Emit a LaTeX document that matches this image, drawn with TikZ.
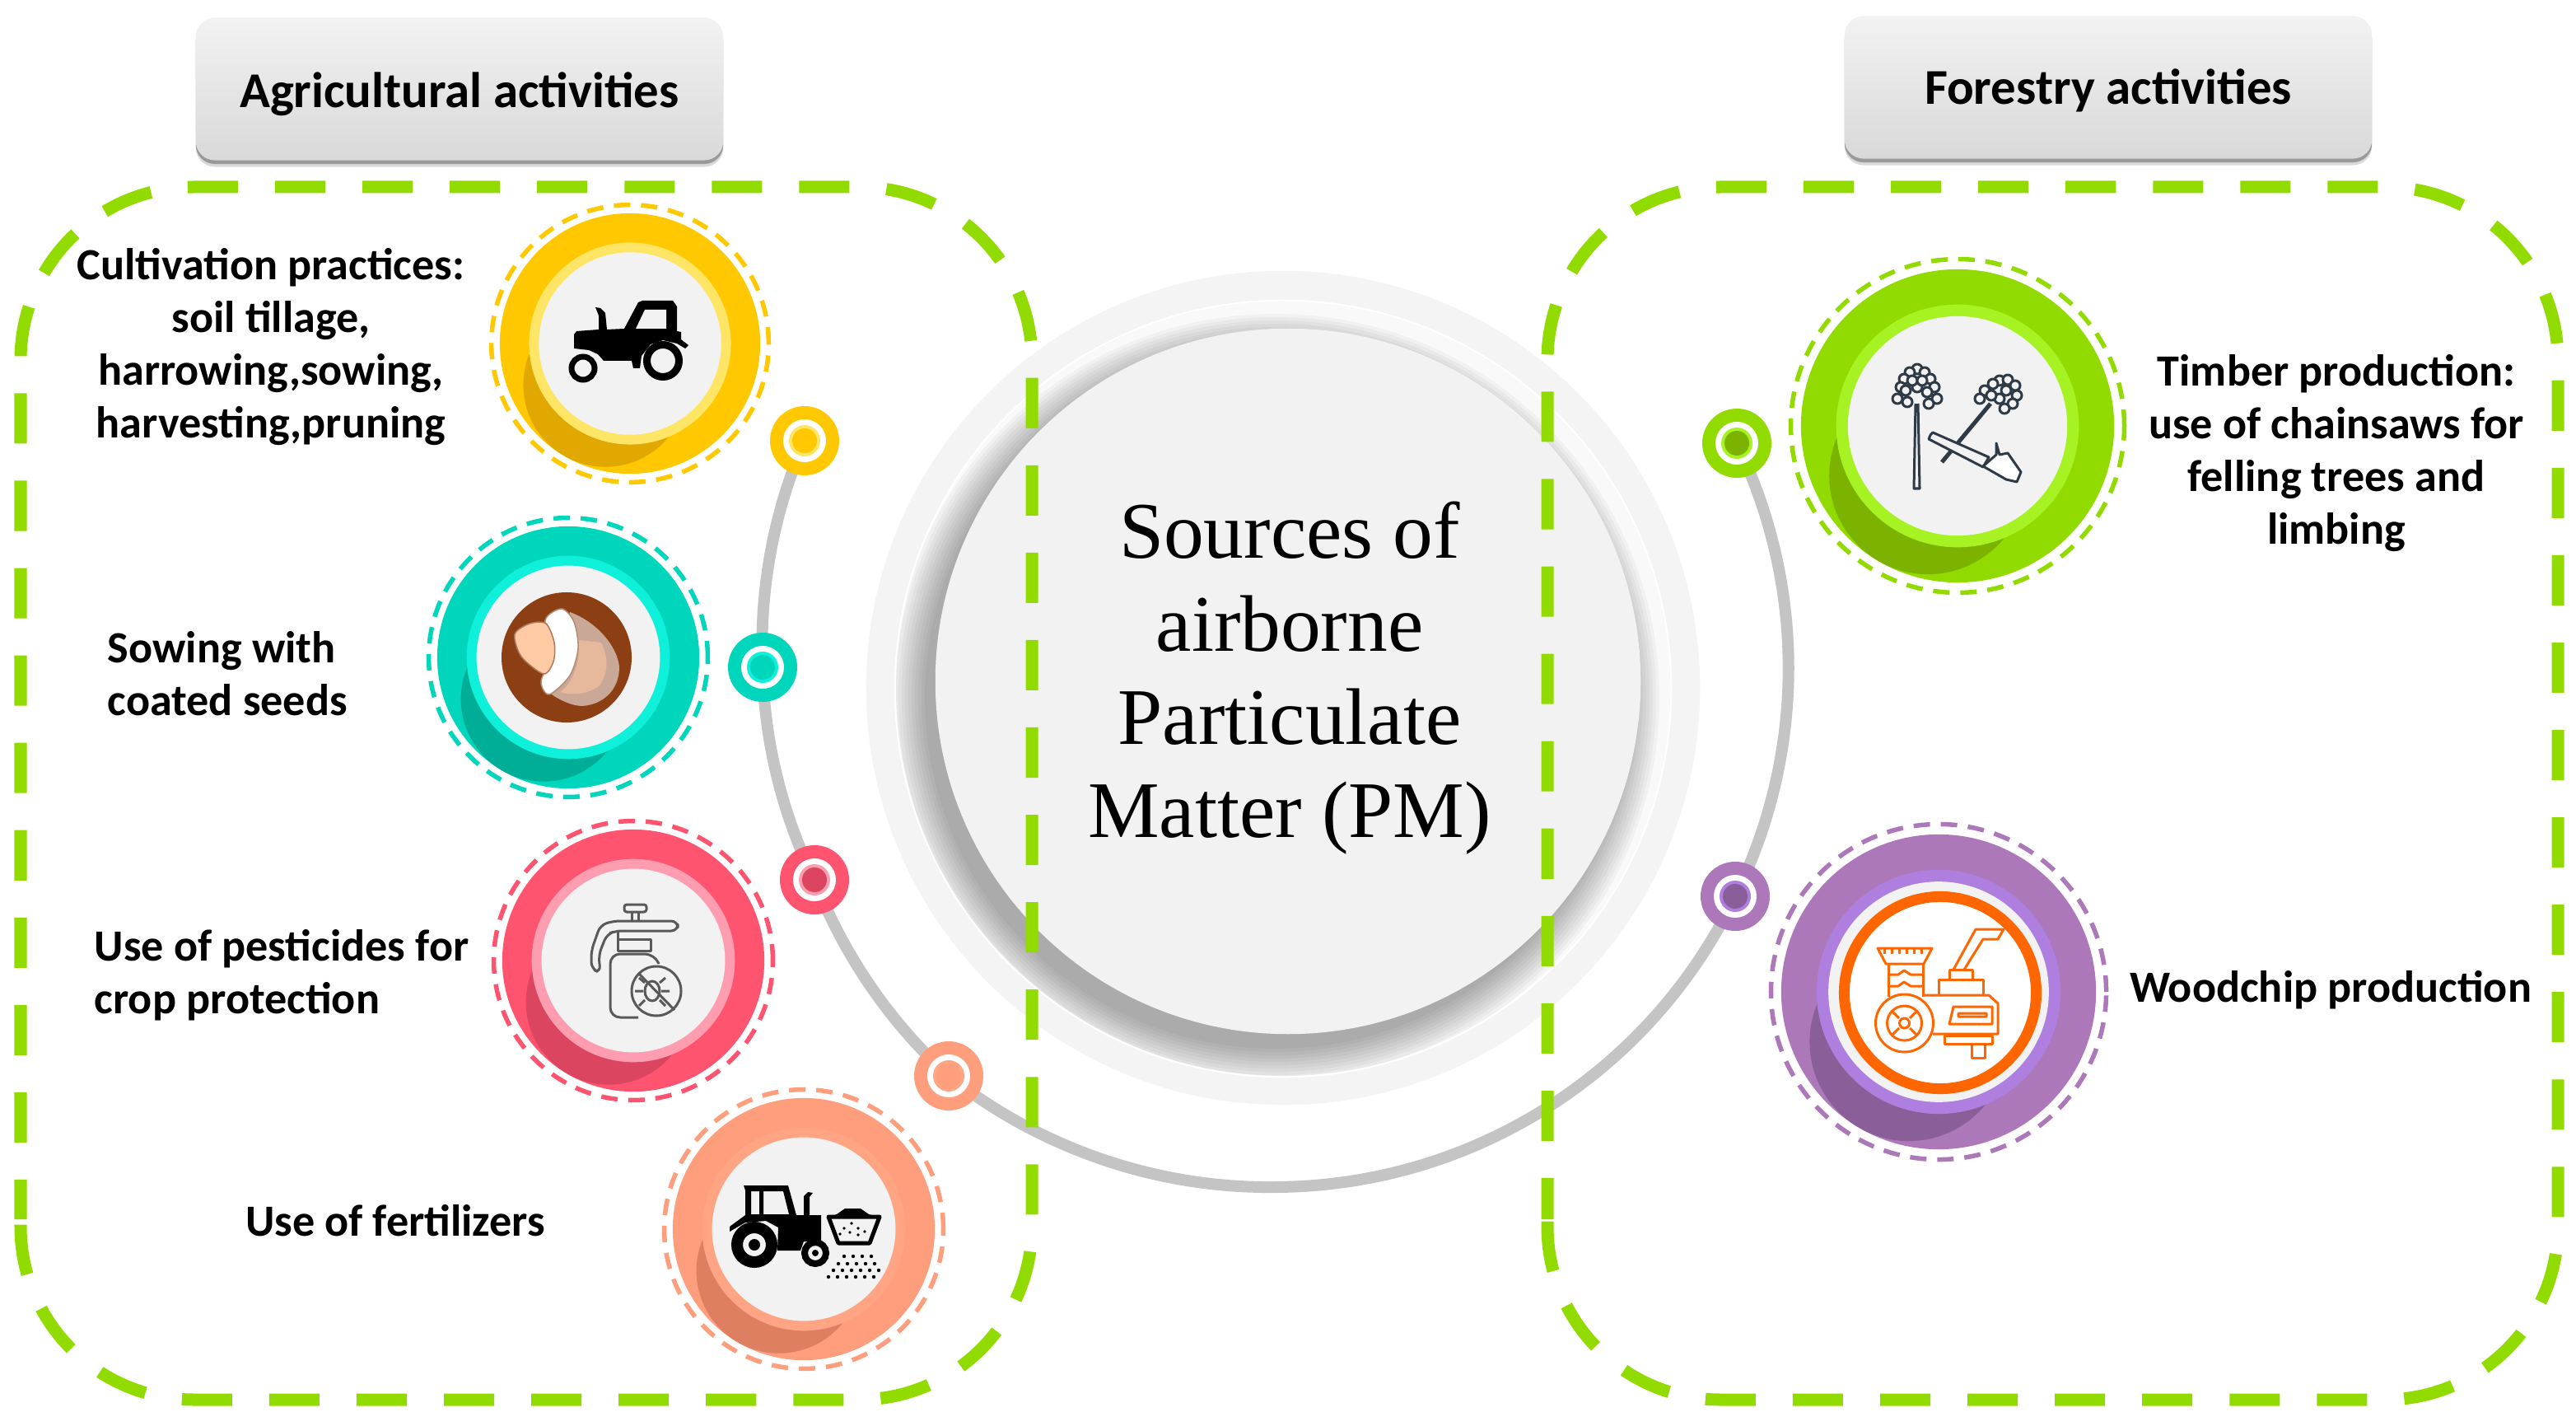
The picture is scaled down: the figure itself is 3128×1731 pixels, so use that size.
\documentclass[tikz,border=0pt]{standalone}
\usepackage{fontspec}
\usepackage{xcolor}
\setmainfont{Carlito}
\newfontfamily\titlefont{Liberation Serif}
\usetikzlibrary{positioning}

\definecolor{framegreen}{HTML}{92DB00}
\definecolor{arcgray}{HTML}{C4C4C4}
\definecolor{paper}{HTML}{F2F2F2}
\definecolor{treeink}{HTML}{2E3A46}
\definecolor{chipper}{HTML}{FF6600}
\definecolor{seedbrown}{HTML}{8B3F13}
\definecolor{seedshell}{HTML}{C9A898}
\definecolor{seedflesh}{HTML}{E6B89C}
\definecolor{seedkernel}{HTML}{FFCBA4}
\definecolor{yellowA}{HTML}{FFC800}\definecolor{yellowB}{HTML}{FFE566}\definecolor{yellowC}{HTML}{E0A800}
\definecolor{tealA}{HTML}{00D6BC}\definecolor{tealB}{HTML}{0FF0DA}\definecolor{tealC}{HTML}{00AE98}
\definecolor{pinkA}{HTML}{FF5470}\definecolor{pinkB}{HTML}{FF9DB0}\definecolor{pinkC}{HTML}{DC4560}
\definecolor{salmonA}{HTML}{FF9E7C}\definecolor{salmonB}{HTML}{FFA584}\definecolor{salmonC}{HTML}{DD7F60}
\definecolor{greenA}{HTML}{92DB00}\definecolor{greenB}{HTML}{A6F222}\definecolor{greenC}{HTML}{7BB300}
\definecolor{purpleA}{HTML}{AC78BA}\definecolor{purpleB}{HTML}{AF7FDF}\definecolor{purpleC}{HTML}{8A5E98}

\begin{document}
\begin{tikzpicture}[x=0.01cm,y=-0.01cm]
    % Define styles
    \tikzstyle{disc} = [circle, inner sep=0, outer sep=0]
    \tikzstyle{headbox} = [rectangle, rounded corners=0.23cm, minimum width=6.4cm, minimum height=1.73cm, inner sep=0]
    \tikzstyle{headtext} = [font=\fontsize{17.3}{20}\selectfont\bfseries]
    \tikzstyle{label} = [font=\fontsize{15.4}{18.2}\selectfont\bfseries, align=center, inner sep=0]
    \tikzstyle{framedash} = [draw=framegreen, line width=0.15cm, rounded corners=2.1cm, dash pattern=on 0.61cm off 0.45cm]
    \tikzstyle{linkarc} = [draw=arcgray, line width=0.14cm]
    \tikzstyle{icon} = [line width=0.03cm, line join=round]

    \path[use as bounding box] (0,0) rectangle (3128,1731);

    % Centre discs
    \node[disc, fill=black!4.5, minimum size=10.12cm] (outerdisc) at (1558,835) {};
    \node[disc, fill=black!2.5, draw=white, line width=0.02cm, minimum size=9.42cm] (middisc) at (1558,836) {};
    \begin{scope}
        \clip (middisc.center) circle[radius=470];
        \foreach \r in {426,430,...,468}
            \fill[black, opacity=0.03] (1549,847) circle[radius=\r];
    \end{scope}
    \node[disc, fill=paper, minimum size=8.56cm] (centerdisc) at (1564,827) {};
    \node[font=\titlefont\fontsize{27.7}{32.2}\selectfont, align=center, inner sep=0] (centertext) at (1566,823) {Sources of\\airborne\\Particulate\\Matter (PM)};

    % Small dots on the arc
    \foreach \nm/\x/\y in {dotyellow/977/535, dotteal/926/810, dotpink/989/1068, dotsalmon/1152/1306, arcbottom/1549/1441, dotpurple/2107/1088, dotgreen/2109/538}
        \coordinate (\nm) at (\x,\y);

    % Connections
    \draw[linkarc] (dotyellow) to[bend right=13, looseness=0.86] (dotteal);
    \draw[linkarc] (dotteal) to[bend right=12.5, looseness=0.86] (dotpink);
    \draw[linkarc] (dotpink) to[bend right=13.4, looseness=0.86] (dotsalmon);
    \draw[linkarc] (dotsalmon) to[bend right=19.5, looseness=0.875] (arcbottom);
    \draw[linkarc] (arcbottom) to[bend right=32, looseness=0.925] (dotpurple);
    \draw[linkarc] (dotpurple) to[bend right=26, looseness=0.9] (dotgreen);

    \foreach \x/\y/\colA/\colB/\colC in {977/535/yellowA/yellowB/yellowA, 926/810/tealA/tealB/tealA, 989/1068/pinkA/pinkB/pinkC, 1152/1306/salmonA/salmonB/salmonA, 2107/1088/purpleA/purpleB/purpleC, 2109/538/greenA/greenB/greenC}{
        \fill[\colA] (\x,\y) circle[radius=42];
        \fill[white] (\x,\y) circle[radius=26];
        \fill[\colB] (\x,\y) circle[radius=19];
        \fill[\colC] (\x,\y) circle[radius=15];
    }

    % Badges
    \foreach \nm/\x/\y/\rr/\colA/\colB/\colC in {badgeyellow/765/417/158/yellowA/yellowB/yellowC, badgeteal/690/798/159/tealA/tealB/tealC, badgepink/769/1166/159/pinkA/pinkB/pinkC, badgesalmon/976/1492/159/salmonA/salmonB/salmonC, badgegreen/2377/517/190/greenA/greenB/greenC, badgepurple/2354/1204/191/purpleA/purpleB/purpleC}{
        \node[disc, draw=\colA, line width=0.055cm, dash pattern=on 0.2cm off 0.13cm, minimum size={\rr*0.0213cm}] (\nm-dash) at (\x,\y) {};
        \node[disc, fill=\colA, minimum size={\rr*0.02cm}] (\nm) at (\x,\y) {};
        \begin{scope}
            \clip (\nm.center) circle[radius=\rr];
            \fill[\colC] (\x-0.19*\rr,\y+0.318*\rr) circle[radius=0.63*\rr];
        \end{scope}
        \node[disc, fill=\colB, minimum size={\rr*0.0155cm}] (\nm-rim) at (\x,\y) {};
        \node[disc, fill=paper, minimum size={\rr*0.014cm}] (\nm-core) at (\x,\y) {};
    }

    % Tractor icon
    \fill[black] (697,406) -- (700,402) -- (727,400) -- (727,383) -- (723,373) -- (729,374) -- (735,380) -- (737,400) -- (758,399) -- (775,367) -- (780,365) -- (817,365) -- (822,372) -- (822,402) -- (827,403) -- (827,412) -- (836,419) -- (832,423) -- (822,417) -- (805,413) -- (790,418) -- (779,432) -- (777,447) -- (769,447) -- (767,438) -- (733,438) -- (726,430) -- (715,425) -- (697,423) -- cycle;
    \fill[paper] (772,399) -- (783,376) -- (809,376) -- (809,399) -- cycle;
    \draw[black, line width=0.09cm] (805,438) circle[radius=19.5];
    \draw[black, line width=0.07cm] (708,447) circle[radius=14];

    % Seed icon
    \fill[seedbrown] (688,798) circle[radius=79];
    \fill[seedshell] (692,743) .. controls (725,755) and (750,785) .. (752,810) .. controls (752,835) and (735,855) .. (707,857) .. controls (695,857) and (680,850) .. (670,843) -- cycle;
    \fill[seedflesh] (730,780) .. controls (740,800) and (738,820) .. (727,833) .. controls (715,842) and (695,845) .. (680,840) .. controls (695,830) and (705,805) .. (703,777) -- cycle;
    \draw[fill=white, draw=seedbrown!60, line width=0.015cm] plot[smooth cycle] coordinates {(682,739) (697,755) (702,787) (692,820) (667,843) (657,827) (670,793) (662,753)};
    \draw[fill=seedkernel, draw=seedbrown!70, line width=0.015cm] plot[smooth cycle] coordinates {(625,770) (643,757) (663,757) (673,780) (672,803) (660,818) (633,797)};

    % Sprayer icon
    \begin{scope}[icon, draw=black!65]
        \draw[rounded corners=0.03cm] (758,1098) rectangle (785,1107);
        \draw (767,1107) -- (767,1118) (775,1107) -- (775,1118);
        \draw[rounded corners=0.08cm] (823,1118) -- (745,1118) -- (729,1123) -- (718,1154) -- (718,1176) -- (729,1181) -- (727,1159) -- (737,1134) -- (748,1130) -- (823,1130) -- cycle;
        \draw (750,1130) -- (750,1140) -- (790,1140) -- (790,1154) -- (750,1154) -- cycle;
        \draw[rounded corners=0.12cm] (775,1235) -- (741,1235) -- (741,1158) -- (795,1158) -- (800,1170);
        \draw[fill=paper] (797,1203) circle[radius=30];
        \draw (792,1203) ellipse[x radius=9, y radius=12];
        \draw (783,1193) -- (776,1187) (781,1203) -- (771,1203) (783,1214) -- (776,1221) (801,1193) -- (808,1187) (803,1203) -- (813,1203) (801,1214) -- (808,1221);
        \draw (775,1181) -- (819,1226);
    \end{scope}

    % Fertilizer tractor icon
    \fill[black, even odd rule] (903,1439) -- (957,1439) -- (967,1475) -- (997,1475) -- (997,1507) -- (976,1507) -- (972,1518) -- (944,1518) -- (945,1490) -- (930,1482) -- (905,1484) -- (886,1495) -- (886,1489) -- (905,1475) -- (905,1445) -- cycle (912,1446) -- (922,1446) -- (922,1474) -- (912,1474) -- cycle (927,1446) -- (951,1446) -- (958,1474) -- (927,1474) -- cycle;
    \fill[black] (976,1475) -- (976,1452) -- (981,1447) -- (987,1448) -- (983,1453) -- (983,1475) -- cycle;
    \draw[black, line width=0.14cm] (916,1511) circle[radius=21];
    \fill[black] (916,1511) circle[radius=7];
    \draw[black, line width=0.08cm] (990,1521) circle[radius=13];
    \fill[black] (990,1521) circle[radius=4];
    \draw[black, line width=0.05cm, line join=round] (1006,1477) -- (1068,1477) -- (1056,1509) -- (1018,1509) -- cycle;
    \fill[black] (1011,1476) -- (1016,1474) -- (1026,1467) -- (1045,1467) -- (1055,1474) -- (1062,1476) -- cycle;
    \foreach \x/\y in {1034/1485, 1025/1491, 1042/1491, 1050/1495, 1032/1496, 1020/1498, 1042/1499}
        \fill[black] (\x,\y) circle[radius=1.8];
    \foreach \x in {1025,1036,...,1058}
        \fill[black] (\x,1525) circle[radius=2.2];
    \foreach \x in {1018,1029,...,1062}
        \fill[black] (\x,1534) circle[radius=2.2];
    \foreach \x in {1012,1023,...,1067}
        \fill[black] (\x,1542) circle[radius=2.2];
    \foreach \x in {1006,1017,...,1068}
        \fill[black] (\x,1550) circle[radius=2.2];

    % Trees and chainsaw icon
    \begin{scope}[icon, draw=treeink]
        \draw (2326,490) -- (2324,593) -- (2331,593) -- (2329,490);
        \foreach \x/\y in {2328/448, 2319/452, 2337/452, 2312/460, 2344/460, 2308/470, 2349/470, 2314/474, 2340/476, 2304/484, 2352/484, 2316/488, 2342/490, 2328/470, 2322/462, 2334/462}
            \draw[fill=paper] (\x,\y) circle[radius=6];
        \draw[line width=0.05cm] (2417,490) -- (2358,561);
        \foreach \x/\y in {2428/462, 2420/466, 2438/461, 2447/468, 2410/474, 2449/480, 2404/484, 2444/490, 2434/496, 2428/484, 2436/474, 2418/480}
            \draw[fill=paper] (\x,\y) circle[radius=6];
        \draw[fill=paper] (2344,528) -- (2347,525) -- (2415,555) -- (2408,567) -- (2342,533) -- cycle;
        \draw[fill=white] (2408,566) -- (2424,552) -- (2424,538) -- (2428,552) -- (2438,550) -- (2454,573) -- (2449,585) -- (2436,582) -- cycle;
    \end{scope}

    % Chipper icon
    \node[disc, fill=white, draw=chipper, line width=0.13cm, minimum size=2.33cm] (chipperdisc) at (2356,1205) {};
    \begin{scope}[line width=0.03cm, draw=chipper, line join=round]
        \draw (2280,1151) -- (2346,1151) -- (2336,1170) -- (2290,1170) -- cycle;
        \foreach \x in {2288,2297,...,2336}
            \draw (\x,1158) -- (\x,1151);
        \draw (2293,1170) -- (2293,1210) (2335,1170) -- (2335,1210);
        \draw (2293,1183) -- (2305,1183) -- (2312,1178) -- (2320,1183) -- (2335,1183) (2293,1197) -- (2305,1197) -- (2312,1192) -- (2320,1197) -- (2335,1197);
        \draw (2312.5,1242) circle[radius=35] (2312.5,1242) circle[radius=21] (2312.5,1242) circle[radius=6];
        \draw (2306,1236) -- (2298,1228) (2319,1236) -- (2327,1228) (2306,1248) -- (2298,1256) (2319,1248) -- (2327,1256);
        \draw (2335,1208) -- (2415,1208) -- (2426,1218) -- (2426,1255) -- (2347,1255);
        \draw (2372,1222) -- (2419,1222) -- (2419,1243) -- (2367,1243) -- cycle (2378,1230) rectangle (2412,1234);
        \draw (2354,1208) -- (2354,1189) -- (2408,1189) -- (2408,1208) (2367,1189) -- (2367,1177) -- (2395,1177) -- (2395,1189);
        \draw (2372,1177) -- (2399,1128) -- (2433,1128) -- (2426,1140) -- (2408,1140) -- (2385,1177);
        \draw (2361,1257) rectangle (2419,1267) (2394,1267) rectangle (2410,1284);
    \end{scope}

    % Headers
    \node[headbox, fill=black!15] (agrshade) at (558,116) {};
    \node[headbox, fill=black!40, minimum height=1.72cm] (agrline) at (558,113) {};
    \node[headbox, top color=black!5, bottom color=black!15] (agrhead) at (558,108) {};
    \node[headtext] (agrtext) at (558,114) {Agricultural activities};
    \node[headbox, fill=black!15] (forshade) at (2560,114) {};
    \node[headbox, fill=black!40, minimum height=1.72cm] (forline) at (2560,111) {};
    \node[headbox, top color=black!5, bottom color=black!15] (forhead) at (2560,106) {};
    \node[headtext] (fortext) at (2560,110) {Forestry activities};

    % Labels
    \node[label] (tillagetext) at (329,421) {Cultivation practices:\\soil tillage,\\harrowing,sowing,\\harvesting,pruning};
    \node[label, anchor=west, align=left] (seedtext) at (130,818) {Sowing with\\coated seeds};
    \node[label, anchor=west, align=left] (pesticidetext) at (114,1184) {Use of pesticides for\\crop protection};
    \node[label] (fertilizertext) at (480,1482) {Use of fertilizers};
    \node[label] (timbertext) at (2837,550) {Timber production:\\use of chainsaws for\\felling trees and\\limbing};
    \node[label] (woodchiptext) at (2830,1202) {Woodchip production};

    % Dashed frames
    \draw[framedash, dash phase=0.13cm] (25,1480) -- (25,227) -- (1253,227) -- (1253,1699) -- (25,1699) -- (25,1480);
    \draw[framedash, dash phase=0.11cm] (1879,1480) -- (1879,227) -- (3106,227) -- (3106,1699) -- (1879,1699) -- (1879,1480);
\end{tikzpicture}
\end{document}
